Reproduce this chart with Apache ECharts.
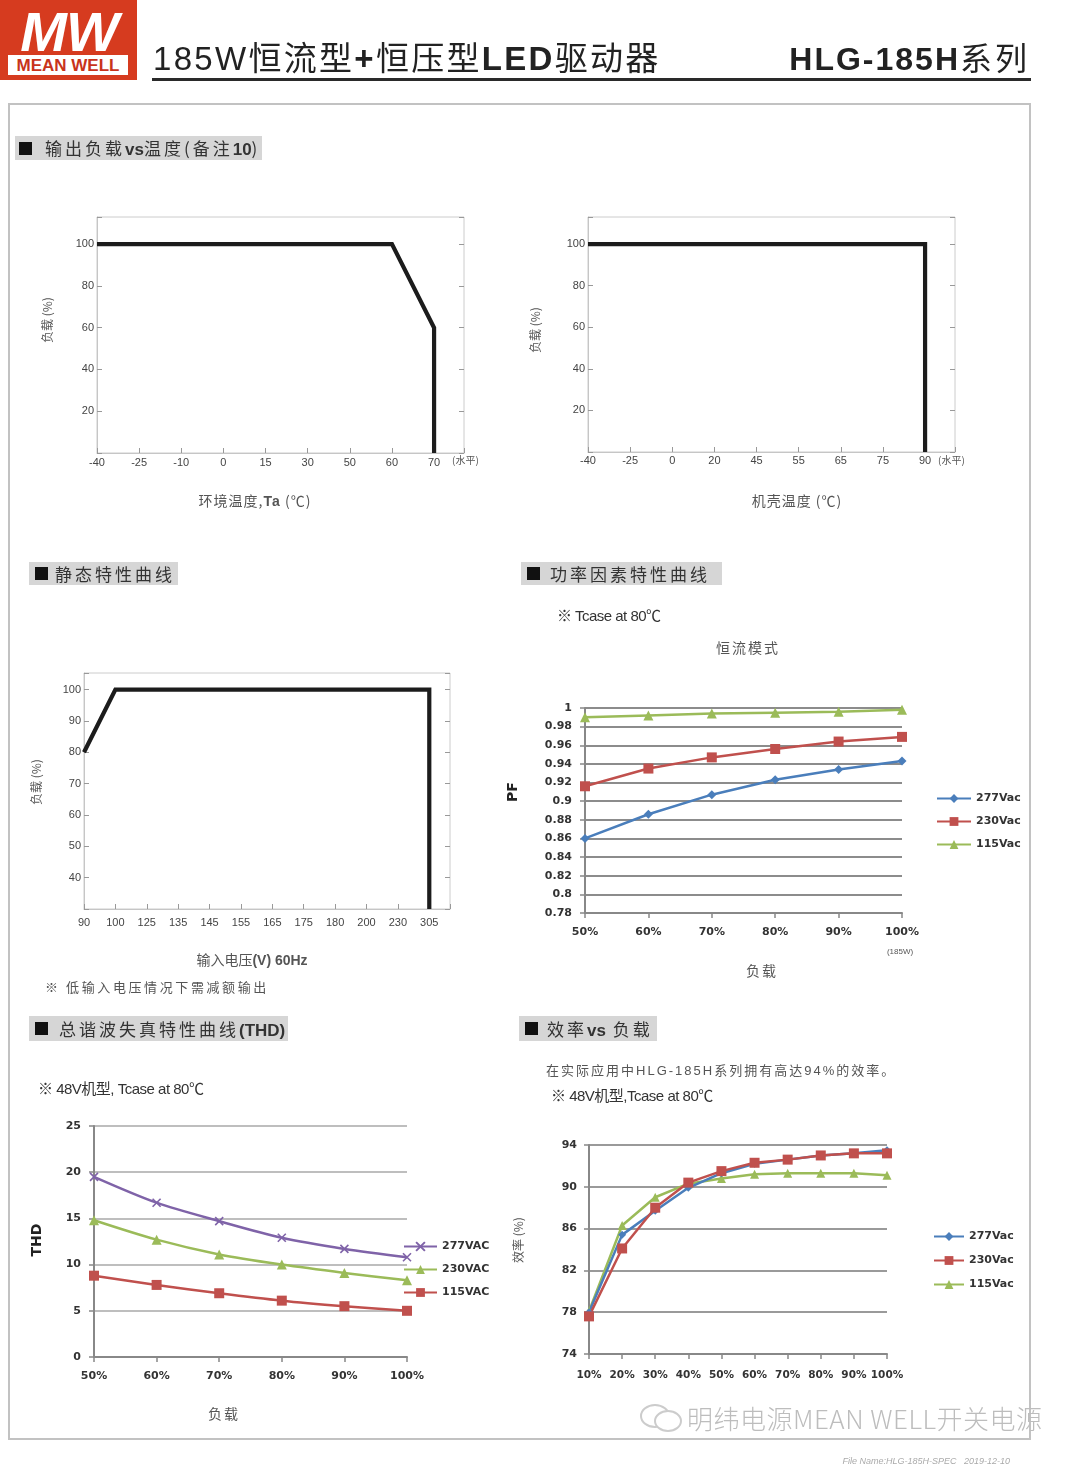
<!DOCTYPE html>
<html><head><meta charset="utf-8">
<script src="https://cdn.jsdelivr.net/npm/echarts@6/dist/echarts.min.js"></script>
<style>
body{margin:0;width:1080px;height:1468px;background:#fff;position:relative;overflow:hidden;font-family:"Noto Sans CJK SC","Liberation Sans",sans-serif;}
#chart{position:absolute;left:0;top:0;width:1080px;height:1468px;}
.t{position:absolute;white-space:nowrap;line-height:1;}
</style></head>
<body>
<div id="chart"></div>
<div id="ov"></div>
<script>
// ---------------- data ----------------
const ambientTempLabels = ['-40','-25','-10','0','15','30','50','60','70'];
const ambientDerating = [['-40',100],['60',100],['70',60],['70',0]];
const caseTempLabels = ['-40','-25','0','20','45','55','65','75','90'];
const caseDerating = [['-40',100],['90',100],['90',0]];
const inputVoltLabels = ['90','100','125','135','145','155','165','175','180','200','230','305'];
const staticCurve = [['90',80],['100',100],['305',100],['305',30]];

const pfLoad = ['50%','60%','70%','80%','90%','100%'];
const pf277 = [0.860,0.886,0.907,0.923,0.934,0.943];
const pf230 = [0.916,0.935,0.947,0.956,0.964,0.969];
const pf115 = [0.990,0.992,0.994,0.995,0.996,0.998];

const thdLoad = ['50%','60%','70%','80%','90%','100%'];
const thd277 = [19.5,16.7,14.7,12.9,11.7,10.8];
const thd230 = [14.8,12.7,11.1,10.0,9.1,8.3];
const thd115 = [8.8,7.8,6.9,6.1,5.5,5.0];

const effLoad = ['10%','20%','30%','40%','50%','60%','70%','80%','90%','100%'];
const eff277 = [78.0,85.4,87.7,89.9,91.3,92.2,92.6,93.0,93.2,93.5];
const eff230 = [77.6,84.1,88.0,90.4,91.5,92.3,92.6,93.0,93.2,93.2];
const eff115 = [78.1,86.3,89.0,90.3,90.8,91.2,91.3,91.3,91.3,91.1];

// ---------------- helpers ----------------
function idx(labels, pairs){ return pairs.map(p => [labels.indexOf(p[0]), p[1]]); }
const GRAY = '#c6c6c6';
const LF = 'Liberation Sans';
function derX(gi, labels, max, margin){
  return {gridIndex:gi,type:'value',min:0,max:max,interval:1,
    axisLine:{show:true,onZero:false,lineStyle:{color:GRAY,width:1}},
    axisTick:{show:true,inside:true,length:5,lineStyle:{color:'#999'}},
    axisLabel:{margin:margin,color:'#444',fontSize:11,fontFamily:LF,showMaxLabel:true,
      formatter:v=>(Number.isInteger(v)&&v<labels.length)?labels[v]:''},
    splitLine:{show:false}};
}
function derY(gi,min,max,int,lo,hi,right){
  return {gridIndex:gi,type:'value',min:min,max:max,interval:int,position:right?'right':'left',
    axisLine:{show:!right,onZero:false,lineStyle:{color:GRAY}},
    axisTick:{show:true,inside:true,length:5,lineStyle:{color:'#999'}},
    axisLabel:{show:!right,margin:3,color:'#444',fontSize:11,fontFamily:LF,
      formatter:v=>(v>=lo&&v<=hi&&Math.abs(v%int)<1e-9)?String(v):''},
    splitLine:{show:false}};
}
function xlsX(gi,data,margin,fs){
  return {gridIndex:gi,type:'category',data:data,boundaryGap:false,
    axisLine:{show:true,lineStyle:{color:'#888',width:2}},
    axisTick:{show:true,length:5,lineStyle:{color:'#888',width:1.5}},
    axisLabel:{interval:0,margin:margin,color:'#333',fontWeight:'bold',fontSize:fs,fontFamily:'DejaVu Sans'},
    splitLine:{show:false}};
}
function xlsY(gi,min,max,int,margin,gc,gw){
  return {gridIndex:gi,type:'value',min:min,max:max,interval:int,
    axisLine:{show:true,lineStyle:{color:'#888',width:2}},
    axisTick:{show:true,length:5,lineStyle:{color:'#888',width:1.5}},
    axisLabel:{margin:margin,color:'#333',fontWeight:'bold',fontSize:11,fontFamily:'DejaVu Sans'},
    splitLine:{show:true,lineStyle:{color:gc,width:gw}}};
}
const BLUE='#4a7ebb', RED='#c0504d', GREEN='#9bbb59', PURPLE='#7f63a8';
const XSYM='path://M0,0L10,10M10,0L0,10';
function ser(name,xi,yi,data,color,sym,size,smooth){
  return {name:name,type:'line',xAxisIndex:xi,yAxisIndex:yi,data:data,smooth:smooth||false,
    symbol:sym,symbolSize:size,showSymbol:true,
    lineStyle:{color:color,width:2.5},
    itemStyle:{color:sym===XSYM?'transparent':color,borderColor:color,borderWidth:sym===XSYM?1.6:0},
    emphasis:{disabled:true}};
}
function der(xi,yi,data){
  return {type:'line',xAxisIndex:xi,yAxisIndex:yi,data:data,symbol:'none',
    lineStyle:{color:'#1c1c1c',width:4.2,join:'miter'},emphasis:{disabled:true},silent:true};
}
const legText = {fontWeight:'bold',fontSize:11,fontFamily:'DejaVu Sans',color:'#333'};

const option = {
  animation:false,
  backgroundColor:'transparent',
  grid:[
    {left:97,top:217,width:367,height:236,show:true,borderColor:'#ccc',borderWidth:1},
    {left:588,top:217,width:367,height:235,show:true,borderColor:'#ccc',borderWidth:1},
    {left:84,top:673,width:366,height:236,show:true,borderColor:'#ccc',borderWidth:1},
    {left:585,top:708,width:317,height:205},
    {left:94,top:1126,width:313,height:231},
    {left:589,top:1145,width:298,height:209}
  ],
  xAxis:[
    derX(0,ambientTempLabels,8.71,4),
    derX(1,caseTempLabels,8.71,3),
    derX(2,inputVoltLabels,11.66,8),
    xlsX(3,pfLoad,14,11),
    xlsX(4,thdLoad,14,11),
    xlsX(5,effLoad,16,10.5)
  ],
  yAxis:[
    derY(0,0,113,20,20,100,false), derY(0,0,113,20,20,100,true),
    derY(1,0,113,20,20,100,false), derY(1,0,113,20,20,100,true),
    derY(2,30,105.3,10,40,100,false), derY(2,30,105.3,10,40,100,true),
    xlsY(3,0.78,1,0.02,13,'#8c8c8c',2),
    xlsY(4,0,25,5,13,'#a8a8a8',1.6),
    xlsY(5,74,94,4,12,'#9a9a9a',2)
  ],
  legend:[
    {data:['277Vac','230Vac','115Vac'],left:936,top:793,orient:'vertical',itemGap:12,itemWidth:34,itemHeight:11,padding:0,selectedMode:false,textStyle:legText},
    {data:['277VAC','230VAC','115VAC'],left:403,top:1241,orient:'vertical',itemGap:12,itemWidth:33,itemHeight:11,padding:0,selectedMode:false,textStyle:legText},
    {data:['277Vac','230Vac','115Vac'],left:933,top:1231,orient:'vertical',itemGap:13,itemWidth:30,itemHeight:11,padding:0,selectedMode:false,textStyle:legText}
  ],
  series:[
    der(0,0,idx(ambientTempLabels,ambientDerating)),
    der(1,2,idx(caseTempLabels,caseDerating)),
    der(2,4,idx(inputVoltLabels,staticCurve)),
    ser('115Vac',3,6,pf115,GREEN,'triangle',10),
    ser('230Vac',3,6,pf230,RED,'rect',10),
    ser('277Vac',3,6,pf277,BLUE,'diamond',9),
    ser('277VAC',4,7,thd277,PURPLE,XSYM,8,0.3),
    ser('230VAC',4,7,thd230,GREEN,'triangle',10,0.3),
    ser('115VAC',4,7,thd115,RED,'rect',10,0.3),
    ser('115Vac',5,8,eff115,GREEN,'triangle',9),
    ser('277Vac',5,8,eff277,BLUE,'diamond',8),
    ser('230Vac',5,8,eff230,RED,'rect',10)
  ]
};
echarts.init(document.getElementById('chart'),null,{renderer:'canvas'}).setOption(option);

// ---------------- page texts ----------------
const ov = document.getElementById('ov');
function T(x, cy, html, css, align, rot){
  const d = document.createElement('div');
  d.className='t';
  d.innerHTML = html;
  d.style.cssText += 'left:'+x+'px;top:'+cy+'px;'+(css||'');
  const ax = align==='c'?'-50%':(align==='r'?'-100%':'0');
  d.style.transform = 'translate('+ax+',-50%)'+(rot?' rotate(-90deg)':'');
  ov.appendChild(d);
  return d;
}
function div(css){ const d=document.createElement('div'); d.style.cssText='position:absolute;'+css; ov.appendChild(d); return d; }
function H(x,y,w,h,sqx,tx,html){
  div('left:'+x+'px;top:'+y+'px;width:'+w+'px;height:'+h+'px;background:#d6d6d6;');
  div('left:'+(x+sqx)+'px;top:'+(y+Math.round((h-13)/2))+'px;width:13px;height:13px;background:#111;');
  const t = div('left:'+(x+tx)+'px;top:'+y+'px;height:'+h+'px;line-height:'+h+'px;white-space:nowrap;font-size:17px;color:#333;letter-spacing:3px;');
  t.innerHTML = html;
}
// page frame
div('left:8px;top:103px;width:1023px;height:1337px;border:2px solid #c2c2c2;box-sizing:border-box;');
// logo
div('left:0;top:0;width:137px;height:80px;background:#d63b1f;overflow:hidden;');
T(69,31,'MW','font:italic bold 56px "Liberation Sans";color:#fff;letter-spacing:-1px;','c');
div('left:8px;top:55px;width:120px;height:20px;background:#fff;');
T(68,66,'MEAN WELL','font:bold 17px "Liberation Sans";color:#c8331b;','c');
// title
T(153,57,'<span style="font-family:\'Liberation Sans\';">185W</span>恒流型<b style="font-family:\'Liberation Sans\'">+</b>恒压型<b style="font-family:\'Liberation Sans\'">LED</b>驱动器','font-size:33px;color:#222;letter-spacing:2.3px;','l');
T(1030,57,'<b style="font-family:\'Liberation Sans\';letter-spacing:2px;">HLG-185H</b><span style="letter-spacing:3px">系列</span>','font-size:32px;color:#222;','r');
div('left:152px;top:78px;width:879px;height:3px;background:#2a2a2a;');
// section headings
H(15,136,247,24,4,30,'输出负载<b style="font-family:\'Liberation Sans\';letter-spacing:0">vs</b>温度(备注<b style="font-family:\'Liberation Sans\';letter-spacing:0">10</b>)');
H(29,562,149,23,6,26,'静态特性曲线');
H(521,562,201,23,6,29,'功率因素特性曲线');
H(29,1016,259,25,6,30,'总谐波失真特性曲线<b style="font-family:\'Liberation Sans\';letter-spacing:0">(THD)</b>');
H(519,1016,138,25,6,28,'效率<b style="font-family:\'Liberation Sans\';letter-spacing:0">vs</b> 负载');

const G = 'color:#555;';
// chart 1
T(47,320,'负载 (%)','font-size:12px;'+G,'c',true);
T(255,500,'环境温度,<b style="font-family:\'Liberation Sans\'">Ta</b> (℃)','font-size:14px;letter-spacing:1px;'+G,'c');
T(452,460,'(水平)','font-size:10px;'+G,'l');
// chart 2
T(535,330,'负载 (%)','font-size:12px;'+G,'c',true);
T(797,500,'机壳温度 (℃)','font-size:14px;letter-spacing:1px;'+G,'c');
T(938,460,'(水平)','font-size:10px;'+G,'l');
// chart 3
T(36,782,'负载 (%)','font-size:12px;'+G,'c',true);
T(252,959,'输入电压<b style="font-family:\'Liberation Sans\'">(V) 60Hz</b>','font-size:14px;'+G,'c');
T(45,986,'※ 低输入电压情况下需减额输出','font-size:13px;letter-spacing:2.6px;'+G,'l');
// PF
T(557,615,'※ Tcase at 80℃','font-size:15px;color:#333;font-family:\'Liberation Sans\',\'Noto Sans CJK SC\';letter-spacing:-0.5px;','l');
T(748,647,'恒流模式','font-size:14px;letter-spacing:2px;'+G,'c');
T(900,952,'(185W)','font-size:8px;font-family:\'Liberation Sans\';'+G,'c');
T(762,970,'负载','font-size:14px;letter-spacing:2px;'+G,'c');
T(512,792,'PF','font:bold 14px \'DejaVu Sans\';color:#222;','c',true);
// THD
T(38,1088,'※ 48V机型, Tcase at 80℃','font-size:15px;color:#333;font-family:\'Liberation Sans\',\'Noto Sans CJK SC\';letter-spacing:-0.5px;','l');
T(36,1240,'THD','font:bold 14px \'DejaVu Sans\';color:#222;','c',true);
T(224,1413,'负载','font-size:14px;letter-spacing:2px;'+G,'c');
// Efficiency
T(546,1070,'在实际应用中<span style="font-family:\'Liberation Sans\'">HLG-185H</span>系列拥有高达<span style="font-family:\'Liberation Sans\'">94%</span>的效率。','font-size:13px;letter-spacing:2px;'+G,'l');
T(551,1095,'※ 48V机型,Tcase at 80℃','font-size:15px;color:#333;font-family:\'Liberation Sans\',\'Noto Sans CJK SC\';letter-spacing:-0.5px;','l');
T(518,1240,'效率 (%)','font-size:12px;'+G,'c',true);
// watermark
div('left:640px;top:1404px;width:26px;height:20px;border:2px solid #ccc;border-radius:50%;');
div('left:654px;top:1410px;width:24px;height:18px;border:2px solid #ccc;border-radius:50%;background:#fff;');
T(687,1418,'明纬电源MEAN WELL开关电源','font-size:26px;color:#bdbdbd;font-weight:300;font-family:\'Noto Sans CJK SC\';letter-spacing:0.5px;','l');
T(1010,1461,'File Name:HLG-185H-SPEC &nbsp; 2019-12-10','font:italic 9px \'Liberation Sans\';color:#aaa;','r');
</script>
</body></html>
